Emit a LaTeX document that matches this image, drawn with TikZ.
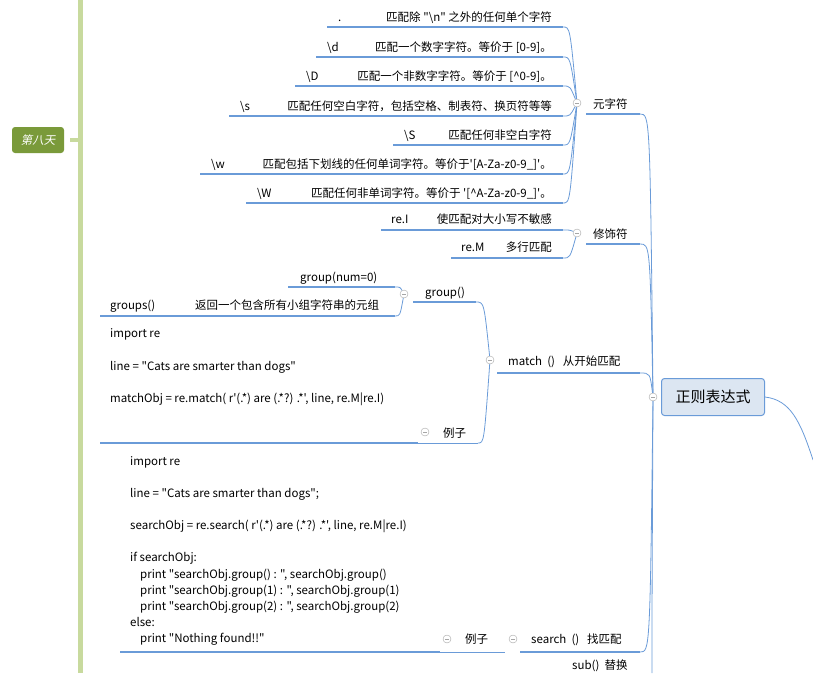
\documentclass[tikz,border=0pt]{standalone}
\usepackage{fontspec}
\newfontfamily\cjk{Noto Sans CJK SC}
\newfontfamily\cjksl[FakeSlant=0.2]{Noto Sans CJK SC}
\definecolor{ln}{HTML}{6A9BD8}
\definecolor{gbar}{HTML}{C8DA9E}
\definecolor{gnode}{HTML}{7A9A3A}
\definecolor{mfill}{HTML}{DCE6F2}
\tikzset{
 t/.style={font=\cjk\fontsize{11.5}{13}\selectfont, inner sep=0pt, anchor=base west},
 te/.style={t, anchor=base east},
 ul/.style={draw=ln, line width=2pt},
 cn/.style={draw=ln, line width=0.8pt},
 col/.style={circle, draw=gray!70, fill=white, minimum size=8pt, inner sep=0pt,
   path picture={\draw[gray!70] ([xshift=-2pt]path picture bounding box.center)--([xshift=2pt]path picture bounding box.center);}}
}
\begin{document}
\begin{tikzpicture}[x=1pt,y=-1pt]
\useasboundingbox (0,0) rectangle (813,673);
% left bar
\draw[gbar, line width=5pt] (80,0) -- (80,673);
\draw[gbar, line width=4pt] (70,140) -- (80,140);
\node[fill=gnode, rounded corners=3pt, minimum width=52pt, minimum height=26pt, text=white, font=\cjksl\fontsize{11.5}{13}\selectfont] (day) at (38,140) {第八天};
% main node
\node[draw=ln, fill=mfill, line width=1pt, rounded corners=3pt, minimum width=103pt, minimum height=37pt, font=\cjk\fontsize{15}{17}\selectfont] (main) at (713,397) {正则表达式};
\node[col] (mc) at (653,397) {};
\draw[cn] (main.east) .. controls (790,400) and (800,420) .. (813,460);
% branch: 元字符
\node[t] (yzf) at (593,108) {元字符};
\node[col] (c1) at (577,103) {};
\coordinate (e1) at (640,114);
\draw[ul] (586,114) -- (e1);
\draw[cn] (mc) .. controls (650,114) .. (e1);
\foreach \yy/\ll in {27/327,57/316,86/295,116/229,145/393,174/200,203/246}{
  \draw[ul] (\ll,\yy) -- (563,\yy);
  \draw[cn] (c1) .. controls (570,\yy) .. (563,\yy);
}
\node[t] (k1) at (338,21) {.};
\node[te] (d1) at (552,21) {匹配除 "\textbackslash n" 之外的任何单个字符};
\node[t] (k2) at (327,51) {\textbackslash d};
\node[te] (d2) at (552,51) {匹配一个数字字符。等价于 [0-9]。};
\node[t] (k3) at (306,80) {\textbackslash D};
\node[te] (d3) at (552,80) {匹配一个非数字字符。等价于 [\textasciicircum 0-9]。};
\node[t] (k4) at (240,110) {\textbackslash s};
\node[te] (d4) at (552,110) {匹配任何空白字符，包括空格、制表符、换页符等等};
\node[t] (k5) at (404,139) {\textbackslash S};
\node[te] (d5) at (552,139) {匹配任何非空白字符};
\node[t] (k6) at (211,168) {\textbackslash w};
\node[te] (d6) at (552,168) {匹配包括下划线的任何单词字符。等价于'[A-Za-z0-9\_]'。};
\node[t] (k7) at (257,197) {\textbackslash W};
\node[te] (d7) at (552,197) {匹配任何非单词字符。等价于 '[\textasciicircum A-Za-z0-9\_]'。};
% branch: 修饰符
\node[t] (xsf) at (593,238) {修饰符};
\node[col] (c2) at (577,233) {};
\coordinate (e2) at (640,244);
\draw[ul] (586,244) -- (e2);
\draw[cn] (mc) .. controls (650,244) .. (e2);
\draw[ul] (381,230) -- (563,230);
\draw[ul] (451,258) -- (563,258);
\draw[cn] (c2) .. controls (570,230) .. (563,230);
\draw[cn] (c2) .. controls (570,258) .. (563,258);
\node[t] (ri) at (391,223) {re.I};
\node[te] (rid) at (552,223) {使匹配对大小写不敏感};
\node[t] (rm) at (461,251) {re.M};
\node[te] (rmd) at (552,251) {多行匹配};
% branch: match
\node[t] (mt) at (508,365) {match\ \ ()\ \ \ 从开始匹配};
\node[col] (c3) at (490,360) {};
\coordinate (e3) at (640,373);
\draw[ul] (497,373) -- (e3);
\draw[cn] (mc) .. controls (650,373) .. (e3);
% group()
\node[t] (gp) at (425,296) {group()};
\node[col] (c4) at (404,294) {};
\coordinate (e4) at (476,302);
\draw[ul] (413,302) -- (e4);
\draw[cn] (c3) .. controls (484,302) .. (e4);
\draw[ul] (288,287) -- (395,287);
\draw[ul] (100,316) -- (395,316);
\draw[cn] (c4) .. controls (400,287) .. (395,287);
\draw[cn] (c4) .. controls (400,316) .. (395,316);
\node[t] (gn) at (300,281) {group(num=0)};
\node[t] (gs) at (110,309) {groups()};
\node[t] (gsd) at (195,309) {返回一个包含所有小组字符串的元组};
% match example
\node[t] (ex1) at (443,437) {例子};
\node[col] (c5) at (425,432) {};
\coordinate (e5) at (478,443);
\draw[ul] (100,443) -- (418,443);
\draw[cn] (418,443) -- (e5);
\draw[cn] (c3) .. controls (484,443) .. (e5);
\node[t] (m1) at (110,337) {import re};
\node[t] (m2) at (110,370) {line = "Cats are smarter than dogs"};
\node[t] (m3) at (110,402) {matchObj = re.match( r'(.*) are (.*?) .*', line, re.M|re.I)};
% branch: search
\node[t] (st) at (531,643) {search\ \ ()\ \ \ 找匹配};
\node[col] (c6) at (513,639) {};
\coordinate (e6) at (640,652);
\draw[ul] (520,652) -- (e6);
\draw[cn] (mc) .. controls (650,652) .. (e6);
\node[t] (ex2) at (465,643) {例子};
\node[col] (c7) at (447,639) {};
\coordinate (e7) at (505,652);
\draw[ul] (120,652) -- (440,652);
\draw[cn] (440,652) -- (e7);
\node[t] (s1) at (130,465) {import re};
\node[t] (s2) at (130,497) {line = "Cats are smarter than dogs";};
\node[t] (s3) at (130,529) {searchObj = re.search( r'(.*) are (.*?) .*', line, re.M|re.I)};
\node[t] (s4) at (130,561) {if searchObj:};
\node[t] (s5) at (140,578) {print "searchObj.group() : ", searchObj.group()};
\node[t] (s6) at (140,594) {print "searchObj.group(1) : ", searchObj.group(1)};
\node[t] (s7) at (140,610) {print "searchObj.group(2) : ", searchObj.group(2)};
\node[t] (s8) at (130,626) {else:};
\node[t] (s9) at (140,642) {print "Nothing found!!"};
% sub
\node[t] (sb) at (572,669) {sub()\ \ 替换};
\draw[cn] (mc) .. controls (652,600) .. (652,673);
\end{tikzpicture}
\end{document}
